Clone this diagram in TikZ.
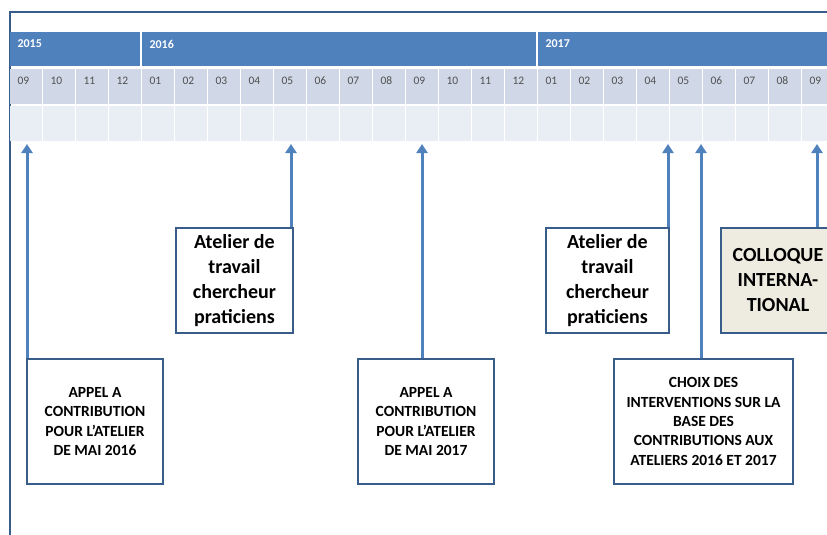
\documentclass[tikz,border=0pt]{standalone}
\usepackage{fontspec}
\setmainfont{Carlito}
\usetikzlibrary{arrows.meta,positioning}
\definecolor{yearblue}{HTML}{4F81BD}
\definecolor{boxblue}{HTML}{385D8A}
\definecolor{monthgray}{HTML}{D0D8E8}
\definecolor{cellgray}{HTML}{E9EDF4}
\definecolor{colloquefill}{HTML}{EEECE1}
\definecolor{labelgray}{HTML}{505050}

\begin{document}
\begin{tikzpicture}[x=1pt,y=-1pt,
    yearlabel/.style={anchor=west,text=white,font=\bfseries\fontsize{12}{14}\selectfont},
    monthlabel/.style={anchor=west,text=labelgray,font=\fontsize{11.5}{13}\selectfont},
    smallbox/.style={draw=boxblue,line width=2pt,fill=white,anchor=north west,align=center,
      inner sep=0pt,minimum height=125pt,font=\bfseries\fontsize{15.5}{19.3}\selectfont},
    bigbox/.style={draw=boxblue,line width=2pt,fill=white,anchor=north west,align=center,
      inner sep=0pt,minimum height=105pt,font=\bfseries\fontsize{20}{25}\selectfont},
    conn/.style={-{Triangle[width=11pt,length=9pt]},line width=3pt,draw=yearblue}]
  \useasboundingbox (0,0) rectangle (827,535);
  \clip (0,0) rectangle (827,535);

  % frame
  \draw[boxblue,line width=2pt] (9.5,535) -- (9.5,12) -- (827,12);

  % years
  \fill[yearblue] (10,32) rectangle (140,66);
  \fill[yearblue] (142,32) rectangle (536,66);
  \fill[yearblue] (538,32) rectangle (840,66);
  \node[yearlabel] (y2015) at (14,44) {2015};
  \node[yearlabel] (y2016) at (146,44) {2016};
  \node[yearlabel] (y2017) at (542,44) {2017};

  % months
  \foreach \m [count=\i from 0] in {09,10,11,12,01,02,03,04,05,06,07,08,09,10,11,12,01,02,03,04,05,06,07,08,09} {
    \fill[monthgray] (10+33*\i,69) rectangle ++(31.5,35);
    \fill[cellgray] (10+33*\i,106) rectangle ++(31.5,35);
    \node[monthlabel] (m\i) at (14+33*\i,81) {\m};
  }

  % boxes
  \node[smallbox,minimum width=136pt] (appel1) at (26,358) {APPEL A\\CONTRIBUTION\\POUR L’ATELIER\\DE MAI 2016};
  \node[bigbox,minimum width=117pt] (atelier1) at (175,227) {Atelier de\\travail\\chercheur\\praticiens};
  \node[smallbox,minimum width=136pt] (appel2) at (357,358) {APPEL A\\CONTRIBUTION\\POUR L’ATELIER\\DE MAI 2017};
  \node[bigbox,minimum width=123pt] (atelier2) at (545,227) {Atelier de\\travail\\chercheur\\praticiens};
  \node[smallbox,minimum width=179pt] (choix) at (613,358) {CHOIX DES\\INTERVENTIONS SUR LA\\BASE DES\\CONTRIBUTIONS AUX\\ATELIERS 2016 ET 2017};
  \node[bigbox,fill=colloquefill,minimum width=114pt] (colloque) at (720,227) {COLLOQUE\\INTERNA-\\TIONAL};

  % arrows
  \coordinate (t1) at (27,144);
  \coordinate (t2) at (291,144);
  \coordinate (t3) at (422,144);
  \coordinate (t4) at (668,144);
  \coordinate (t5) at (701,144);
  \coordinate (t6) at (817,144);
  \draw[conn] (appel1.north west -| t1) -- (t1);
  \draw[conn] (atelier1.north east -| t2) -- (t2);
  \draw[conn] (appel2.north -| t3) -- (t3);
  \draw[conn] (atelier2.north east -| t4) -- (t4);
  \draw[conn] (choix.north -| t5) -- (t5);
  \draw[conn] (colloque.north -| t6) -- (t6);
\end{tikzpicture}
\end{document}
